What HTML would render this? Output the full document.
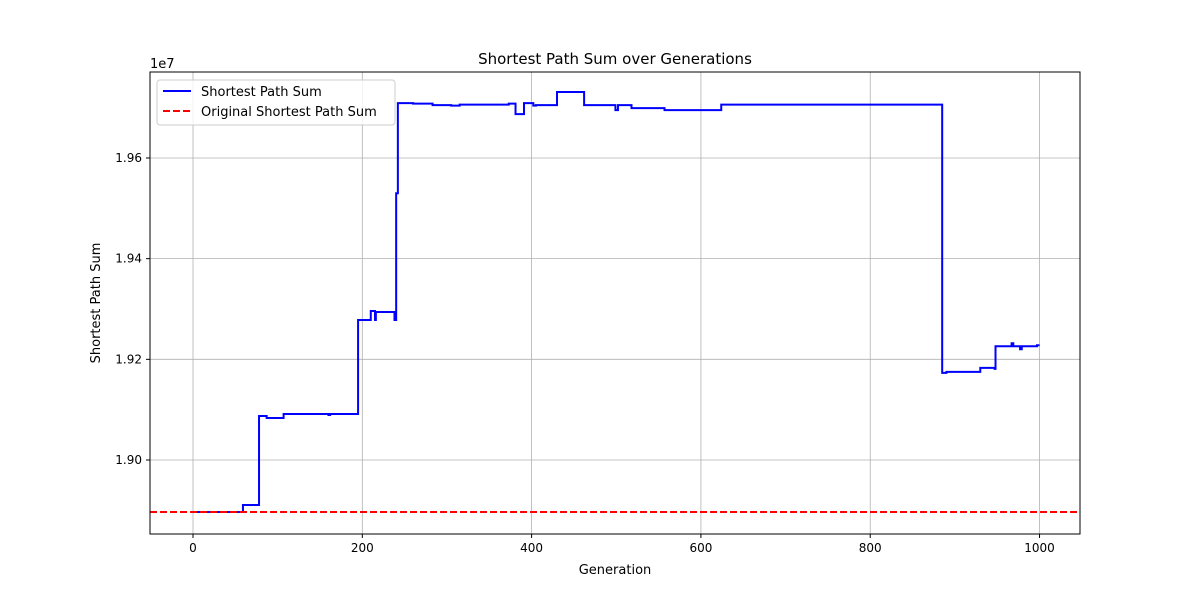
<!DOCTYPE html>
<html><head><meta charset="utf-8"><style>
body{margin:0;background:#fff;font-family:"Liberation Sans","DejaVu Sans",sans-serif}
</style></head><body>
<svg id="chart" width="1200" height="600" xmlns="http://www.w3.org/2000/svg" font-family="DejaVu Sans, Liberation Sans, sans-serif">
<rect width="1200" height="600" fill="#fff"/>
<g id="grid"></g>
<g id="series"></g>
<rect x="150" y="72" width="930" height="462" fill="none" stroke="#000" stroke-width="1"/>
<g id="ticks"></g>
<text x="615" y="64" text-anchor="middle" font-size="15">Shortest Path Sum over Generations</text>
<text x="615" y="574" text-anchor="middle" font-size="13">Generation</text>
<text x="100" y="303" text-anchor="middle" font-size="13" transform="rotate(-90 100 303)">Shortest Path Sum</text>
<text x="150" y="68" font-size="13">1e7</text>
<g>
<rect x="157" y="80" width="238" height="45" rx="3" fill="#fff" fill-opacity="0.8" stroke="#ccc"/>
<line x1="163" y1="91" x2="191" y2="91" stroke="#0000ff" stroke-width="2"/>
<text x="201" y="96" font-size="13">Shortest Path Sum</text>
<line x1="163" y1="111" x2="191" y2="111" stroke="#ff0000" stroke-width="2" stroke-dasharray="7,3"/>
<text x="201" y="116" font-size="13">Original Shortest Path Sum</text>
</g>
</svg>
<script>
const gens=[0,59,78,87,107,160,162,195,210,212,215,216,238,240,242,260,283,305,315,373,381,391,402,405,430,462,499,502,518,557,624,885,890,930,947,948,967,969,977,979,997,1000];
const vals=[18896700,18910600,19087400,19083400,19091400,19089400,19091400,19278100,19296000,19296000,19278100,19294000,19278100,19530000,19709000,19708000,19705000,19704000,19706000,19708000,19687000,19709000,19704000,19705000,19731000,19705000,19695000,19705000,19699000,19695000,19706000,19173000,19175000,19183000,19181000,19226000,19232000,19226000,19220000,19226000,19228000,19228000];
const originalValue=18896700;
const xTicks=[0,200,400,600,800,1000];
const yTicks=[19000000,19200000,19400000,19600000];
const yTickLabels=["1.90","1.92","1.94","1.96"];
const X0=150,X1=1080,Y0=72,Y1=534,xmin=-50.8,xmax=1047.8,ymin=18853000,ymax=19770800;
const sx=v=>X0+(v-xmin)/(xmax-xmin)*(X1-X0);
const sy=v=>Y1-(v-ymin)/(ymax-ymin)*(Y1-Y0);
const NS="http://www.w3.org/2000/svg";
const grid=document.getElementById('grid'),ticks=document.getElementById('ticks'),series=document.getElementById('series');
function mk(t,a,p){const e=document.createElementNS(NS,t);for(const k in a)e.setAttribute(k,a[k]);p.appendChild(e);return e;}
xTicks.forEach(t=>{const x=sx(t);
const g=mk('line',{x1:x,x2:x,y1:Y0,y2:Y1,stroke:'#b0b0b0','stroke-width':0.8},grid);


const tk=mk('line',{x1:x,x2:x,y1:Y1,y2:Y1+4,stroke:'#000'},ticks);


const l=mk('text',{x:x,y:Y1+18,'text-anchor':'middle','font-size':12},ticks);l.textContent=t;

});
yTicks.forEach((t,i)=>{const y=sy(t);
const g=mk('line',{x1:X0,x2:X1,y1:y,y2:y,stroke:'#b0b0b0','stroke-width':0.8},grid);


const tk=mk('line',{x1:X0-4,x2:X0,y1:y,y2:y,stroke:'#000'},ticks);


const l=mk('text',{x:X0-8,y:y+4,'text-anchor':'end','font-size':12},ticks);l.textContent=yTickLabels[i];

});
let d='M'+sx(gens[0])+','+sy(vals[0]);
for(let i=1;i<gens.length;i++){d+=' H'+sx(gens[i])+' V'+sy(vals[i]);}
const p=mk('path',{d:d,fill:'none',stroke:'#0000ff','stroke-width':2},series);


const o=mk('line',{x1:X0,x2:X1,y1:sy(originalValue),y2:sy(originalValue),stroke:'#ff0000','stroke-width':2,'stroke-dasharray':'7,3'},series);


</script>
</body></html>
